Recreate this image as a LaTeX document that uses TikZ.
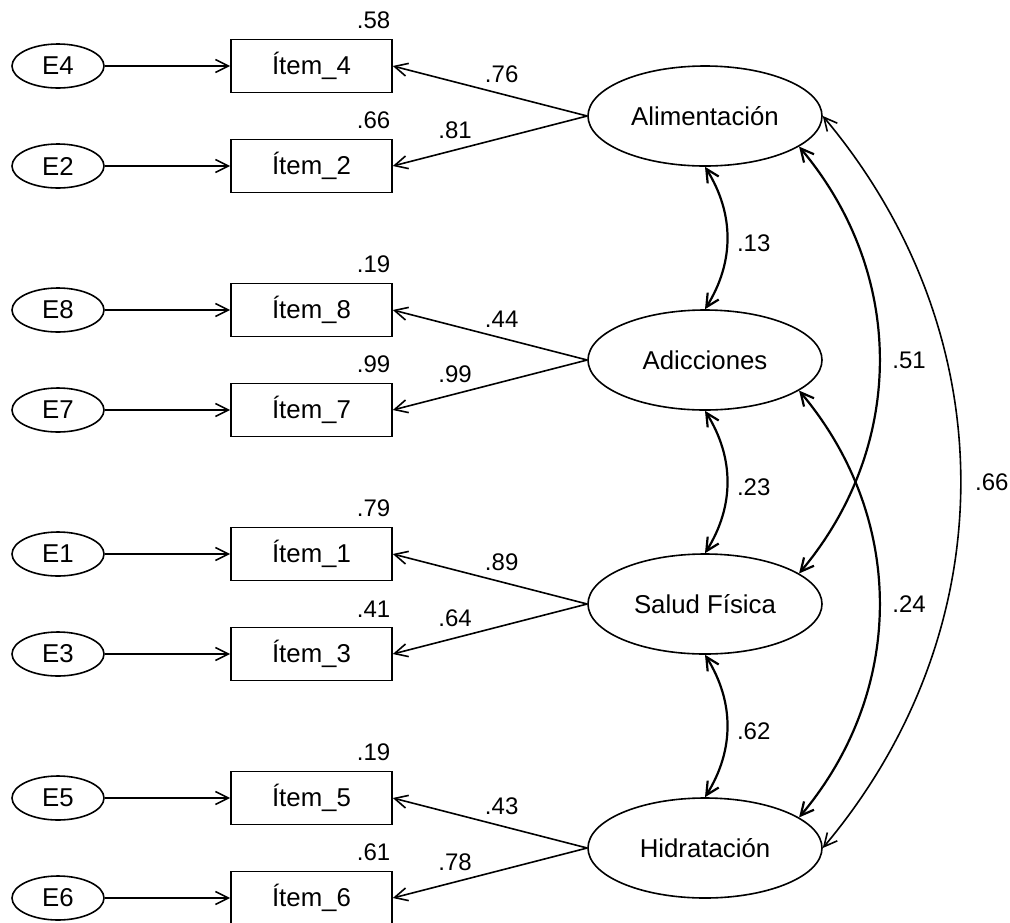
\documentclass[tikz,border=0pt]{standalone}
\usepackage{fontspec}
\setmainfont{Liberation Sans}
\usetikzlibrary{arrows.meta,shapes.geometric}

\begin{document}
\begin{tikzpicture}[x=1pt, y=-1pt, line width=1.6pt,
    font=\fontsize{25.8}{31}\selectfont,
    err/.style={draw, ellipse, minimum width=92pt, minimum height=44pt, inner sep=0pt},
    item/.style={draw, rectangle, minimum width=161pt, minimum height=53pt, inner sep=0pt},
    lat/.style={draw, ellipse, minimum width=234pt, minimum height=100pt, inner sep=0pt},
    num/.style={inner sep=2pt, font=\fontsize{24}{28}\selectfont},
    barb/.style={-{Straight Barb[length=13pt, width=13pt]}},
    corr/.style={{Straight Barb[length=13pt, width=13pt]}-{Straight Barb[length=13pt, width=13pt]}, line width=2.2pt}]
    \useasboundingbox (0, 0) rectangle (1010, 922);
    \node[err] (e4) at (58, 66) {E4};
    \node[err] (e2) at (58, 166) {E2};
    \node[err] (e8) at (58, 310) {E8};
    \node[err] (e7) at (58, 410) {E7};
    \node[err] (e1) at (58, 554) {E1};
    \node[err] (e3) at (58, 654) {E3};
    \node[err] (e5) at (58, 798) {E5};
    \node[err] (e6) at (58, 898) {E6};
    \node[item] (i4) at (311.5, 66) {Ítem\_4};
    \node[item] (i2) at (311.5, 166) {Ítem\_2};
    \node[item] (i8) at (311.5, 310) {Ítem\_8};
    \node[item] (i7) at (311.5, 410) {Ítem\_7};
    \node[item] (i1) at (311.5, 554) {Ítem\_1};
    \node[item] (i3) at (311.5, 654) {Ítem\_3};
    \node[item] (i5) at (311.5, 798) {Ítem\_5};
    \node[item] (i6) at (311.5, 898) {Ítem\_6};
    \node[num, anchor=south east] (r4) at (393, 32) {.58};
    \node[num, anchor=south east] (r2) at (393, 132) {.66};
    \node[num, anchor=south east] (r8) at (393, 276) {.19};
    \node[num, anchor=south east] (r7) at (393, 376) {.99};
    \node[num, anchor=south east] (r1) at (393, 520) {.79};
    \node[num, anchor=south east] (r3) at (393, 620) {.41};
    \node[num, anchor=south east] (r5) at (393, 764) {.19};
    \node[num, anchor=south east] (r6) at (393, 864) {.61};
    \node[lat] (al) at (705, 116) {Alimentación};
    \node[lat] (ad) at (705, 360) {Adicciones};
    \node[lat] (sf) at (705, 604) {Salud Física};
    \node[lat] (hi) at (705, 848) {Hidratación};
    \draw[barb] (e4) -- (i4);
    \draw[barb] (e2) -- (i2);
    \draw[barb] (e8) -- (i8);
    \draw[barb] (e7) -- (i7);
    \draw[barb] (e1) -- (i1);
    \draw[barb] (e3) -- (i3);
    \draw[barb] (e5) -- (i5);
    \draw[barb] (e6) -- (i6);
    \draw[barb] (al.west) to node[num, pos=0.44, above=8pt] (l4) {.76} (i4.east);
    \draw[barb] (al.west) to node[num, pos=0.68, above=8pt] (l2) {.81} (i2.east);
    \draw[barb] (ad.west) to node[num, pos=0.44, above=8pt] (l8) {.44} (i8.east);
    \draw[barb] (ad.west) to node[num, pos=0.68, above=8pt] (l7) {.99} (i7.east);
    \draw[barb] (sf.west) to node[num, pos=0.44, above=8pt] (l1) {.89} (i1.east);
    \draw[barb] (sf.west) to node[num, pos=0.68, above=8pt] (l3) {.64} (i3.east);
    \draw[barb] (hi.west) to node[num, pos=0.44, above=8pt] (l5) {.43} (i5.east);
    \draw[barb] (hi.west) to node[num, pos=0.68, above=8pt] (l6) {.78} (i6.east);
    \draw[corr] (al.south) to[bend left=32] node[num, pos=0.54, right=7pt] (c1) {.13} (ad.north);
    \draw[corr] (ad.south) to[bend left=32] node[num, pos=0.54, right=7pt] (c2) {.23} (sf.north);
    \draw[corr] (sf.south) to[bend left=32] node[num, pos=0.54, right=7pt] (c3) {.62} (hi.north);
    \draw[corr] (al.-18) to[bend left=40] node[num, right=10pt] (c4) {.51} (sf.18);
    \draw[corr] (ad.-18) to[bend left=40] node[num, right=10pt] (c5) {.24} (hi.18);
    \draw[corr, line width=1.6pt] (al.east) to[bend left=40] node[num, right=12pt] (c6) {.66} (hi.east);
\end{tikzpicture}
\end{document}
